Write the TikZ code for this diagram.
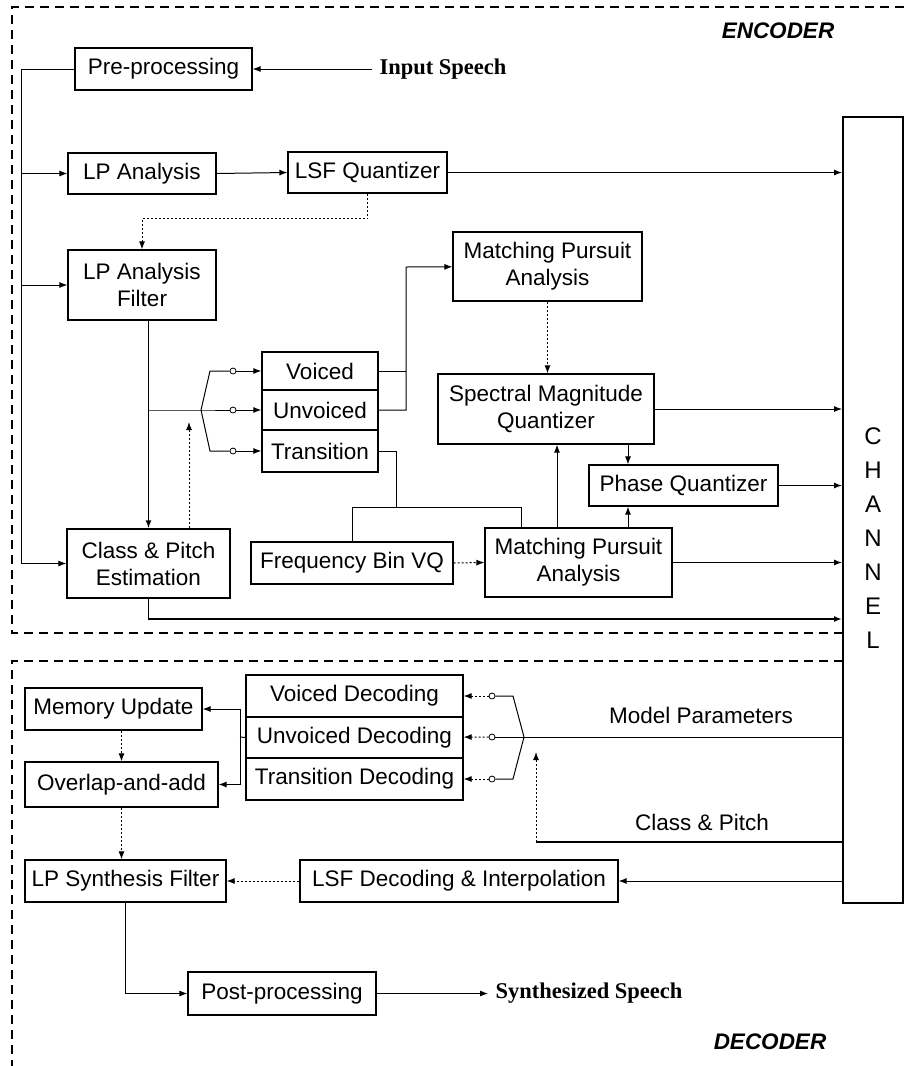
\documentclass[tikz,border=0pt]{standalone}
\usepackage{fontspec}
\setmainfont{Liberation Sans}
\newfontfamily\timesfont{Liberation Serif}
\usetikzlibrary{arrows.meta}

\tikzset{
  >={Latex[length=8pt,width=6pt]},
  wh/.style 2 args={minimum width=#1pt, minimum height=#2pt},
  sw/.style={circle, draw, fill=white, inner sep=0pt, minimum size=6pt, line width=0.8pt},
  frame/.style={dash pattern=on 9pt off 6pt, line width=1.2pt},
  dots/.style={dash pattern=on 2pt off 2pt},
  thk/.style={line width=1.8pt},
}

\begin{document}
\begin{tikzpicture}[x=1pt,y=-1pt,line width=1pt]
\useasboundingbox (0,0) rectangle (904,1066);

        \draw[frame] (904,7) -- (12,7) -- (12,633) -- (843,633);
        \draw[frame] (843,661) -- (12,661) -- (12,1066);

        \begin{scope}[every node/.style={draw, rectangle, align=center, inner sep=2pt, line width=1.2pt,
                      font=\fontsize{22.5}{27}\selectfont}]
          \node[wh={177}{42}] (1)  at (163.5,69)   {Pre-processing};
          \node[wh={148}{41}] (2)  at (142,173.5)  {LP Analysis};
          \node[wh={159}{41}] (3)  at (367.5,172.5) {LSF Quantizer};
          \node[wh={148}{70}] (4)  at (142,285)    {LP Analysis\\Filter};
          \node[wh={116}{38}] (5)  at (320,371)    {Voiced};
          \node[wh={116}{40}] (6)  at (320,410)    {Unvoiced};
          \node[wh={116}{42}] (7)  at (320,451)    {Transition};
          \node[wh={189}{69}] (8)  at (547.5,266.5) {Matching Pursuit\\Analysis};
          \node[wh={216}{70}] (9)  at (546,409)    {Spectral Magnitude\\Quantizer};
          \node[wh={189}{41}] (10) at (683.5,485.5) {Phase Quantizer};
          \node[wh={202}{42}] (11) at (352,563)    {Frequency Bin VQ};
          \node[wh={187}{69}] (12) at (578.5,562.5) {Matching Pursuit\\Analysis};
          \node[wh={163}{69}] (13) at (148.5,563.5) {Class \& Pitch\\Estimation};
          \node[wh={60}{786}, line width=2pt] (14) at (873,510) {};
          \node[wh={217}{42}] (15) at (354.5,696)  {Voiced Decoding};
          \node[wh={217}{41}] (16) at (354.5,737.5) {Unvoiced Decoding};
          \node[wh={217}{42}] (17) at (354.5,779)  {Transition Decoding};
          \node[wh={177}{42}] (18) at (113.5,709)  {Memory Update};
          \node[wh={193}{45}] (19) at (121.5,784.5) {Overlap-and-add};
          \node[wh={318}{42}] (20) at (459,881)    {LSF Decoding \& Interpolation};
          \node[wh={201}{42}] (21) at (125.5,881)  {LP Synthesis Filter};
          \node[wh={188}{43}] (22) at (282,993.5)  {Post-processing};
        \end{scope}

        \begin{scope}[every node/.style={inner sep=2pt, font=\fontsize{22.5}{27}\selectfont}]
          \node[anchor=west, inner xsep=7pt, font=\timesfont\bfseries\fontsize{22.5}{27}\selectfont] (in) at (372,69) {Input Speech};
          \node[anchor=west, inner xsep=7pt, font=\timesfont\bfseries\fontsize{22.5}{27}\selectfont] (out) at (488,993.5) {Synthesized Speech};
          \node[font=\bfseries\itshape\fontsize{22.5}{27}\selectfont] (enc) at (778,31) {ENCODER};
          \node[font=\bfseries\itshape\fontsize{22.5}{27}\selectfont] (dec) at (770,1042) {DECODER};
          \node (mp) at (701,715) {Model Parameters};
          \node (cp) at (702,822) {Class \& Pitch};
          \node[align=center, font=\fontsize{24}{34}\selectfont] (ch) at (873,538) {C\\H\\A\\N\\N\\E\\L};
        \end{scope}

        \coordinate (b0) at (21,69);
        \coordinate (j1) at (148.5,410);
        \coordinate (a1) at (201,410);
        \coordinate (f1) at (210,371);
        \coordinate (f3) at (210,451);
        \coordinate (k0) at (189,422);
        \coordinate (v1) at (406,267);
        \coordinate (t1) at (396,507);
        \coordinate (t2) at (521,507);
        \coordinate (m1) at (557,528);
        \coordinate (m2) at (628,528);
        \coordinate (q1) at (148.5,619);
        \coordinate (a2) at (524,737);
        \coordinate (g1) at (513,696);
        \coordinate (g3) at (513,779);
        \coordinate (b1) at (240,737);
        \coordinate (k1) at (536,842);
        \coordinate (k2) at (536,752);

        \begin{scope}[every node/.style={sw}]
          \node (c1) at (233,371) {};
          \node (c2) at (233,410) {};
          \node (c3) at (233,451) {};
          \node (c4) at (492,696) {};
          \node (c5) at (492,737) {};
          \node (c6) at (492,779) {};
        \end{scope}

        % encoder
        \draw[->] (in.west) -- (1.east);
        \draw (1.west) -- (b0) -- (b0 |- 13.west);
        \draw[->] (b0 |- 2.west) -- (2.west);
        \draw[->] (b0 |- 4.west) -- (4.west);
        \draw[->] (b0 |- 13.west) -- (13.west);
        \draw[->] (2.east) -- (3.west);
        \draw[->] (3.east) -- (3.east -| 14.west);
        \draw[dots,->] (3.south) -- ++(0,25) -| (4.north);
        \draw[thk,->] (4.south -| 13) -- (13);
        \draw (j1) -- (a1) -- (c2);
        \draw (a1) -- (f1) -- (c1);
        \draw (a1) -- (f3) -- (c3);
        \draw[dots,->] (k0 |- 13.north) -- (k0);
        \begin{scope}[every edge/.style={draw,->}]
          \path (c1) edge (5)
                (c2) edge (6)
                (c3) edge (7);
        \end{scope}
        \draw (5.east) -- (5.east -| v1);
        \draw[->] (6.east) -| (v1) -- (8);
        \draw[dots,->] (8.south) -- (8.south |- 9.north);
        \draw (7.east) -| (t1);
        \draw (11.north) |- (t2) -- (t2 |- 12.north);
        \draw[dots,->] (11.east) -- (12.west);
        \draw[->] (m1) -- (m1 |- 9.south);
        \draw[->] (m2) -- (m2 |- 10.south);
        \draw[->] (m2 |- 9.south) -- (m2 |- 10.north);
        \draw[->] (9.east) -- (9.east -| 14.west);
        \draw[->] (10.east) -- (10.east -| 14.west);
        \draw[->] (12.east) -- (12.east -| 14.west);
        \draw[thk,->] (13.south) -- (q1) -- (q1 -| 14.west);

        % decoder
        \draw (a2 -| 14.west) -- (a2) -- (c5);
        \draw (a2) -- (g1) -- (c4);
        \draw (a2) -- (g3) -- (c6);
        \begin{scope}[every edge/.style={draw,dots,->}]
          \path (c4) edge (15)
                (c5) edge (16)
                (c6) edge (17);
        \end{scope}
        \draw[thk] (k1 -| 14.west) -- (k1);
        \draw[dots,->] (k1) -- (k2);
        \draw (16.west) -- (b1);
        \draw[->] (b1) |- (18.east);
        \draw[->] (b1) |- (19.east);
        \draw[dots,->] (18.south -| 19) -- (19.north);
        \draw[dots,->] (19.south) -- (19.south |- 21.north);
        \draw[->] (20.east -| 14.west) -- (20.east);
        \draw[dots,->] (20.west) -- (21.east);
        \draw[->] (21.south) |- (22.west);
        \draw[->] (22.east) -- (out.west);

\end{tikzpicture}
\end{document}
